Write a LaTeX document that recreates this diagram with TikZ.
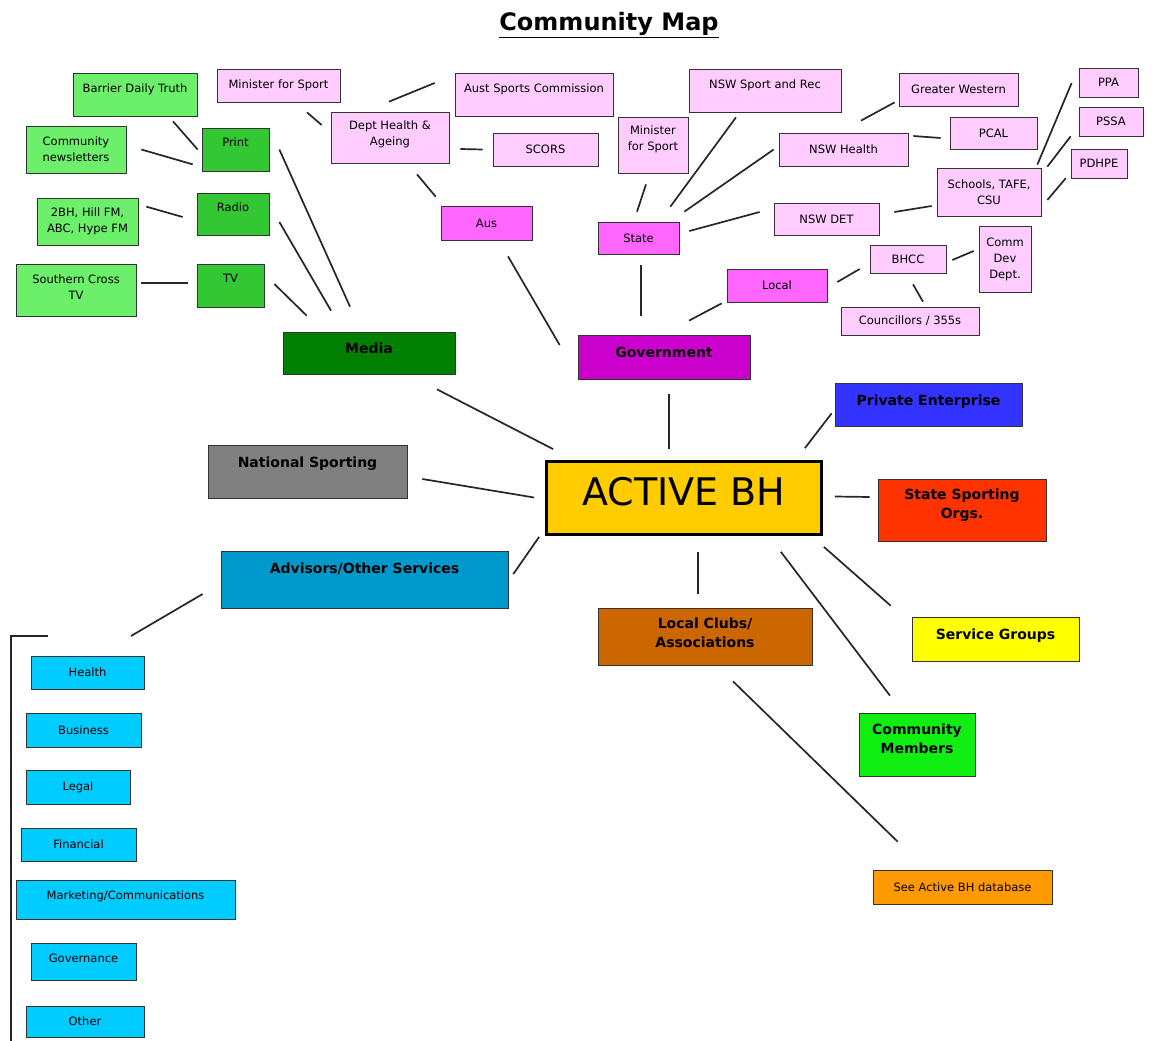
\documentclass[tikz,border=0pt]{standalone}
\usepackage{fontspec}
\setmainfont{DejaVu Sans}
\usepackage{tikz}
\definecolor{grnlite}{HTML}{6CF06C}
\definecolor{grnmid}{HTML}{33C833}
\definecolor{grndark}{HTML}{008000}
\definecolor{pinklite}{HTML}{FFCCFF}
\definecolor{pinkmid}{HTML}{FF66FF}
\definecolor{govpurple}{HTML}{CC00CC}
\definecolor{natgrey}{HTML}{808080}
\definecolor{advblue}{HTML}{0099CC}
\definecolor{subcyan}{HTML}{00CCFF}
\definecolor{abhgold}{HTML}{FFCC00}
\definecolor{peblue}{HTML}{3333FF}
\definecolor{ssored}{HTML}{FF3300}
\definecolor{sgyellow}{HTML}{FFFF00}
\definecolor{clubbrown}{HTML}{CC6600}
\definecolor{memgreen}{HTML}{11EE11}
\definecolor{dborange}{HTML}{FF9900}
\newcommand{\lift}[2]{\raisebox{#1}[\height][\depth]{\begin{tabular}{@{}c@{}}#2\end{tabular}}}
\tikzset{wh/.style 2 args={minimum width=#1pt,minimum height=#2pt}}

\begin{document}
\begin{tikzpicture}[x=1pt,y=-1pt]
	\tikzstyle{every node}=[rectangle,draw=black!80,line width=0.7pt,inner sep=0pt,align=center,text=black,font=\fontsize{11.5}{16}\selectfont]
	\tikzstyle{head}=[font=\fontsize{14}{19}\selectfont\bfseries]
	\tikzstyle{link}=[draw=black!85,line width=1.7pt]
	\tikzstyle{lgreen}=[fill=grnlite]
	\tikzstyle{mgreen}=[fill=grnmid]
	\tikzstyle{lpink}=[fill=pinklite]
	\tikzstyle{mpink}=[fill=pinkmid]
	\tikzstyle{sub}=[fill=subcyan]
	\fill[white] (0,0) rectangle (1157,1041);
	\useasboundingbox (0,0) rectangle (1157,1041);

	\node (title)[draw=none,anchor=base,font=\fontsize{24}{28}\selectfont\bfseries] at (609,31) {\underline{Community Map}};

	% media
	\node (bdt)[lgreen,wh={124}{43}] at (135,94.5) {\lift{5.5pt}{Barrier Daily Truth}};
	\node (newsl)[lgreen,wh={100}{47}] at (76,149.5) {Community\\newsletters};
	\node (print)[mgreen,wh={67}{43}] at (235.5,149.5) {\lift{6pt}{Print}};
	\node (radio)[mgreen,wh={72}{42}] at (233,214) {\lift{6pt}{Radio}};
	\node (stations)[lgreen,wh={101}{47}] at (87.5,221.5) {2BH, Hill FM,\\ABC, Hype FM};
	\node (sctv)[lgreen,wh={120}{52}] at (76,290) {\lift{2pt}{Southern Cross\\TV}};
	\node (tv)[mgreen,wh={67}{43}] at (230.5,285.5) {\lift{6.5pt}{TV}};
	\node (media)[fill=grndark,head,wh={172}{42}] at (369,353) {\lift{3.5pt}{Media}};

	% government
	\node (minfed)[lpink,wh={123}{33}] at (278.5,85.5) {Minister for Sport};
	\node (dept)[lpink,wh={118}{51}] at (390,137.5) {\lift{3pt}{Dept Health \&\\Ageing}};
	\node (asc)[lpink,wh={158}{43}] at (534,94.5) {\lift{5.5pt}{Aust Sports Commission}};
	\node (scors)[lpink,wh={105}{33}] at (545.5,149.5) {SCORS};
	\node (aus)[mpink,wh={91}{34}] at (486.5,223) {Aus};
	\node (gov)[fill=govpurple,head,wh={172}{44}] at (664,357) {\lift{3.5pt}{Government}};
	\node (minstate)[lpink,wh={70}{56}] at (653,145) {\lift{5.5pt}{Minister\\for Sport}};
	\node (state)[mpink,wh={81}{32}] at (638.5,238) {State};
	\node (sportrec)[lpink,wh={152}{43}] at (765,90.5) {\lift{5.5pt}{NSW Sport and Rec}};
	\node (nswhealth)[lpink,wh={129}{33}] at (843.5,149.5) {NSW Health};
	\node (gw)[lpink,wh={119}{33}] at (958.5,89.5) {Greater Western};
	\node (pcal)[lpink,wh={87}{32}] at (993.5,133) {PCAL};
	\node (ppa)[lpink,wh={59}{29}] at (1108.5,82.5) {PPA};
	\node (pssa)[lpink,wh={64}{29}] at (1111,121.5) {PSSA};
	\node (pdhpe)[lpink,wh={56}{29}] at (1099,163.5) {PDHPE};
	\node (schools)[lpink,wh={104}{48}] at (989,192) {Schools, TAFE,\\CSU};
	\node (det)[lpink,wh={105}{32}] at (826.5,219) {NSW DET};
	\node (local)[mpink,wh={100}{33}] at (777,285.5) {Local};
	\node (bhcc)[lpink,wh={76}{28}] at (908,259) {BHCC};
	\node (commdev)[lpink,wh={52}{66}] at (1005,259) {Comm\\Dev\\Dept.};
	\node (councillors)[lpink,wh={138}{28}] at (910,321) {Councillors / 355s};

	% centre and main groups
	\node (abh)[fill=abhgold,draw=black,line width=2.8pt,wh={275}{73},font=\fontsize{38}{44}\selectfont] at (684,498) {\lift{1.5pt}{ACTIVE BH}};
	\node (natsport)[fill=natgrey,head,wh={199}{53}] at (307.5,471.5) {\lift{8pt}{National Sporting}};
	\node (advisors)[fill=advblue,head,wh={287}{57}] at (364.5,579.5) {\lift{10pt}{Advisors/Other Services}};
	\node (pe)[fill=peblue,head,wh={187}{43}] at (928.5,404.5) {\lift{3pt}{Private Enterprise}};
	\node (sso)[fill=ssored,head,wh={168}{62}] at (962,510) {\lift{5pt}{State Sporting\\Orgs.}};
	\node (sg)[fill=sgyellow,head,wh={167}{44}] at (995.5,639) {\lift{3.5pt}{Service Groups}};
	\node (clubs)[fill=clubbrown,head,wh={214}{57}] at (705,636.5) {\lift{2pt}{Local Clubs/\\Associations}};
	\node (members)[fill=memgreen,head,wh={116}{63}] at (917,744.5) {\lift{4.5pt}{Community\\Members}};
	\node (seedb)[fill=dborange,wh={179}{34}] at (962.5,887) {See Active BH database};

	% advisors list
	\node (health)[sub,wh={113}{33}] at (87.5,672.5) {Health};
	\node (business)[sub,wh={115}{34}] at (83.5,730) {Business};
	\node (legal)[sub,wh={104}{34}] at (78,787) {Legal};
	\node (financial)[sub,wh={115}{33}] at (78.5,844.5) {Financial};
	\node (marketing)[sub,wh={219}{39}] at (125.5,899.5) {\lift{3.5pt}{Marketing/Communications}};
	\node (governance)[sub,wh={105}{37}] at (83.5,961.5) {\lift{2.5pt}{Governance}};
	\node (other)[sub,wh={118}{31}] at (85,1021.5) {Other};
	\coordinate (advfoot) at (131,636);
	\draw[link] (48,636) -- (11,636) -- (11,1041);

	\draw[link] ([shift={(38,5)}]bdt.south) -- ([shift={(-4,0)}]print.west);
	\draw[link] ([shift={(15,0)}]newsl.east) -- ([shift={(-9,-7)}]print.south west);
	\draw[link] ([shift={(8,9)}]stations.north east) -- ([shift={(-14,3)}]radio.west);
	\draw[link] ([shift={(5,-7)}]sctv.east) -- ([shift={(-9,-2.5)}]tv.west);
	\draw[link] ([shift={(10,0)}]print.east) -- ([shift={(-19,-25)}]media.north);
	\draw[link] ([shift={(10,8)}]radio.east) -- ([shift={(-38,-21)}]media.north);
	\draw[link] ([shift={(10,-1.5)}]tv.east) -- ([shift={(24,-16)}]media.north west);

	\draw[link] ([shift={(28.5,10)}]minfed.south) -- ([shift={(-9,-12.5)}]dept.west);
	\draw[link] ([shift={(-1,-10)}]dept.north) -- ([shift={(-20,-11.5)}]asc.west);
	\draw[link] ([shift={(11,11.5)}]dept.east) -- ([shift={(-10,0)}]scors.west);
	\draw[link] ([shift={(27,11)}]dept.south) -- ([shift={(-5,-9)}]aus.north west);
	\draw[link] ([shift={(21.5,16)}]aus.south) -- ([shift={(-18,-12)}]gov.west);
	\draw[link] ([shift={(-7,11)}]minstate.south) -- ([shift={(-1.5,-10)}]state.north);
	\draw[link] ([shift={(-29,5)}]sportrec.south) -- ([shift={(-9,-15)}]state.north east);
	\draw[link] ([shift={(-5,0)}]nswhealth.west) -- ([shift={(5,-10)}]state.north east);
	\draw[link] ([shift={(-14,-7)}]det.west) -- ([shift={(10,-7)}]state.east);
	\draw[link] ([shift={(2.5,11)}]state.south) -- ([shift={(-23,-19)}]gov.north);
	\draw[link] ([shift={(-5,1)}]local.south west) -- ([shift={(25,-14)}]gov.north);
	\draw[link] ([shift={(17.5,-12)}]nswhealth.north) -- ([shift={(-4,-4)}]gw.south west);
	\draw[link] ([shift={(5,-13.5)}]nswhealth.east) -- ([shift={(-9,5)}]pcal.west);
	\draw[link] ([shift={(15,-7)}]det.east) -- ([shift={(-5,14)}]schools.west);
	\draw[link] ([shift={(-4,-3)}]schools.north east) -- ([shift={(-7,0.5)}]ppa.west);
	\draw[link] ([shift={(6,-1)}]schools.north east) -- ([shift={(-8,0)}]pssa.south west);
	\draw[link] ([shift={(6,8)}]schools.east) -- ([shift={(-5,0)}]pdhpe.south west);
	\draw[link] ([shift={(10,-3.5)}]local.east) -- ([shift={(-10,10)}]bhcc.west);
	\draw[link] ([shift={(6,1)}]bhcc.east) -- ([shift={(-5,-8)}]commdev.west);
	\draw[link] ([shift={(5,11)}]bhcc.south) -- ([shift={(13,-5)}]councillors.north);

	\draw[link] ([shift={(68,15)}]media.south) -- ([shift={(8,-11)}]abh.north west);
	\draw[link] ([shift={(15,7.5)}]natsport.east) -- ([shift={(-11,-0.5)}]abh.west);
	\draw[link] ([shift={(5,-5.5)}]advisors.east) -- ([shift={(-6,1)}]abh.south west);
	\draw[link] ([shift={(5,15)}]gov.south) -- ([shift={(-15,-11)}]abh.north);
	\draw[link] ([shift={(-18,-12)}]abh.north east) -- ([shift={(-3,-13)}]pe.south west);
	\draw[link] ([shift={(12,-1.5)}]abh.east) -- ([shift={(-8,-13)}]sso.west);
	\draw[link] ([shift={(1,11)}]abh.south east) -- ([shift={(-21,-11)}]sg.north west);
	\draw[link] ([shift={(-42,16)}]abh.south east) -- ([shift={(-27,-17)}]members.north);
	\draw[link] ([shift={(14,16)}]abh.south) -- ([shift={(-7,-14)}]clubs.north);
	\draw[link] ([shift={(28,16)}]clubs.south) -- ([shift={(25,-28)}]seedb.north west);
	\draw[link] ([shift={(-18,14.5)}]advisors.west) -- (advfoot);
\end{tikzpicture}
\end{document}
